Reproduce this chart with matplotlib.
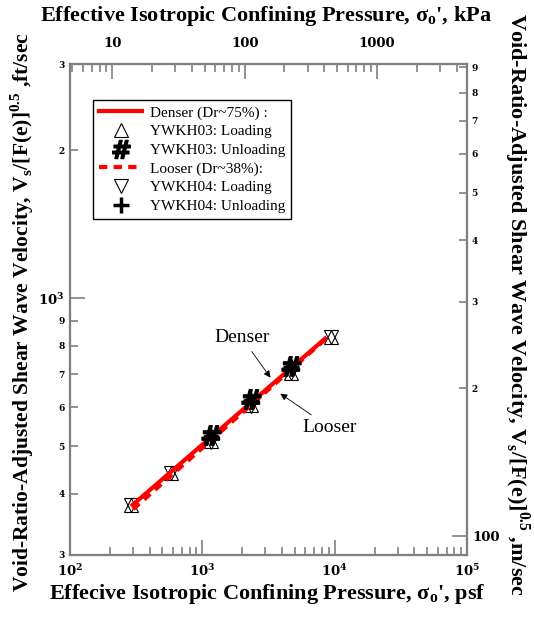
import matplotlib
matplotlib.use('Agg')
import matplotlib.pyplot as plt
from matplotlib.lines import Line2D

plt.rcParams['font.family'] = 'DejaVu Serif'
plt.rcParams['font.weight'] = 'bold'

PSF_PER_KPA = 20.885
M_PER_FT = 0.3048

# isotropic loading steps (psf) and void-ratio-adjusted Vs (ft/sec)
p_load = [289, 580, 1160, 2330, 4650, 9400]
vs03_load = [380, 440, 512, 606, 705, 835]
vs04_load = [380, 441, 510, 604, 703, 835]

# unloading steps
p_unload = [1165, 2330, 4660]
vs03_unload = [527, 623, 729]
vs04_unload = [522, 618, 724]

# fitted trend lines (end points)
p_dense = [289, 8700]
vs_dense = [377, 833]
p_loose = [300, 8700]
vs_loose = [372, 830]

x_major = [1e2, 1e3, 1e4, 1e5]
x_major_lab = [r'$\mathregular{10^{2}}$', r'$\mathregular{10^{3}}$',
               r'$\mathregular{10^{4}}$', r'$\mathregular{10^{5}}$']
x_minor = [m * d for d in (1e2, 1e3, 1e4) for m in range(2, 10)]
y_minor = [300, 400, 500, 600, 700, 800, 900, 2000, 3000]
y_minor_lab = ['3', '4', '5', '6', '7', '8', '9', '2', '3']
kpa_major = [10, 100, 1000]
kpa_minor = [5, 6, 7, 8, 9] + [m * d for d in (10, 100) for m in range(2, 10)] + [2000, 3000, 4000]
ms_major = [100]
ms_minor = [200, 300, 400, 500, 600, 700, 800, 900]

grey = '#7f7f7f'
serif = 'Liberation Serif'

fig = plt.figure(figsize=(5.34, 6.19), dpi=100)
ax = fig.add_axes([70 / 534, 64 / 619, 397 / 534, 491 / 619])
ax.set_xscale('log')
ax.set_yscale('log')
ax.set_xlim(1e2, 1e5)
ax.set_ylim(300, 3000)

# markers and lines
ax.plot(p_load, vs03_load, ls='none', marker='^', ms=10, mfc='white', mec='black', mew=0.8, zorder=2)
ax.plot(p_load, vs04_load, ls='none', marker='v', ms=10, mfc='none', mec='black', mew=0.8, zorder=2)
ax.plot(p_dense, vs_dense, color='red', lw=3, solid_capstyle='butt', zorder=3)
ax.plot(p_loose, vs_loose, color='red', lw=3, ls=(0, (2, 1.5)), zorder=3)
ax.plot(p_unload, vs04_unload, ls='none', marker='+', ms=11, mec='black', mew=2.5, zorder=4)
ax.plot(p_unload, vs03_unload, ls='none', marker=r'$\mathbf{\#}$', ms=14, color='black', zorder=5)

ax.annotate('Denser', xy=(3365, 682), xytext=(1995, 830), ha='center', va='center',
            fontsize=14, family=serif, weight='normal',
            arrowprops=dict(arrowstyle='-|>', color='black', lw=0.6, mutation_scale=10))
ax.annotate('Looser', xy=(3733, 644), xytext=(9230, 545), ha='center', va='center',
            fontsize=14, family=serif, weight='normal',
            arrowprops=dict(arrowstyle='-|>', color='black', lw=0.6, mutation_scale=10))

handles = [
    Line2D([], [], color='red', lw=3, label='Denser (Dr~75%) :'),
    Line2D([], [], ls='none', marker='^', ms=10, mfc='white', mec='black', mew=0.8, label='YWKH03: Loading'),
    Line2D([], [], ls='none', marker=r'$\mathbf{\#}$', ms=13, color='black', label='YWKH03: Unloading'),
    Line2D([], [], color='red', lw=3, ls=(0, (2, 1.5)), label='Looser (Dr~38%):'),
    Line2D([], [], ls='none', marker='v', ms=10, mfc='white', mec='black', mew=0.8, label='YWKH04: Loading'),
    Line2D([], [], ls='none', marker='+', ms=12, mec='black', mew=2.5, label='YWKH04: Unloading'),
]
leg = ax.legend(handles=handles, loc='upper left', bbox_to_anchor=(0.058, 0.927), borderaxespad=0,
                prop={'family': serif, 'weight': 'normal', 'size': 11},
                fancybox=False, framealpha=1, edgecolor='black', handlelength=2.8,
                labelspacing=0.32, handletextpad=0.5, borderpad=0.4)
leg.get_frame().set_linewidth(1.0)

# bottom / left ticks
ax.set_xticks(x_major, labels=x_major_lab)
ax.set_xticks(x_minor, labels=[''] * len(x_minor), minor=True)
ax.set_yticks([1000], labels=[r'$\mathregular{10^{3}}$'])
ax.set_yticks(y_minor, labels=y_minor_lab, minor=True)
ax.tick_params(which='both', direction='in', color=grey, width=1.2, top=False, right=False)
ax.tick_params(which='major', length=11, labelsize=9.5, pad=6)
ax.tick_params(which='minor', length=6)
ax.tick_params(axis='y', which='minor', labelsize=6.5, pad=4)
ax.tick_params(axis='y', which='major', pad=4)

# top axis in kPa
axt = ax.twiny()
axt.set_xscale('log')
axt.set_xlim(1e2 / PSF_PER_KPA, 1e5 / PSF_PER_KPA)
axt.set_xticks(kpa_major, labels=[str(v) for v in kpa_major])
axt.set_xticks(kpa_minor, labels=[''] * len(kpa_minor), minor=True)
axt.tick_params(which='both', direction='in', color=grey, width=1.2)
axt.tick_params(which='major', length=11, labelsize=9.5, pad=10)
axt.tick_params(which='minor', length=6)

# right axis in m/sec
axr = ax.twinx()
axr.set_yscale('log')
axr.set_ylim(300 * M_PER_FT, 3000 * M_PER_FT)
axr.set_yticks(ms_major, labels=['100'])
axr.set_yticks(ms_minor, labels=[str(v // 100) for v in ms_minor], minor=True)
axr.tick_params(which='both', direction='in', color=grey, width=1.2)
axr.tick_params(which='major', length=11, labelsize=9.5, pad=4)
axr.tick_params(which='minor', length=6, labelsize=6.5, pad=3)

for a in (ax, axt, axr):
    for s in a.spines.values():
        s.set_color(grey)
        s.set_linewidth(1.5)

hlab = dict(family=serif, weight='bold', fontsize=16)
fig.text(267 / 534, 1 - 594 / 619, "Effecive Isotropic Confining Pressure, σ$_\\mathregular{o}$', psf",
         ha='center', va='center', **hlab)
fig.text(266 / 534, 1 - 16 / 619, "Effective Isotropic Confining Pressure, σ$_\\mathregular{o}$', kPa",
         ha='center', va='center', **hlab)
fig.text(22 / 534, 1 - 312 / 619,
         "Void-Ratio-Adjusted Shear Wave Velocity, V$_\\mathregular{s}$/[F(e)]$^\\mathregular{0.5}$ ,ft/sec",
         ha='center', va='center', rotation=90, family=serif, weight='bold', fontsize=15.5)
fig.text(517 / 534, 1 - 304 / 619,
         "Void-Ratio-Adjusted Shear Wave Velocity, V$_\\mathregular{s}$/[F(e)]$^\\mathregular{0.5}$ ,m/sec",
         ha='center', va='center', rotation=270, family=serif, weight='bold', fontsize=16)

fig.savefig('out.png', dpi=100)
